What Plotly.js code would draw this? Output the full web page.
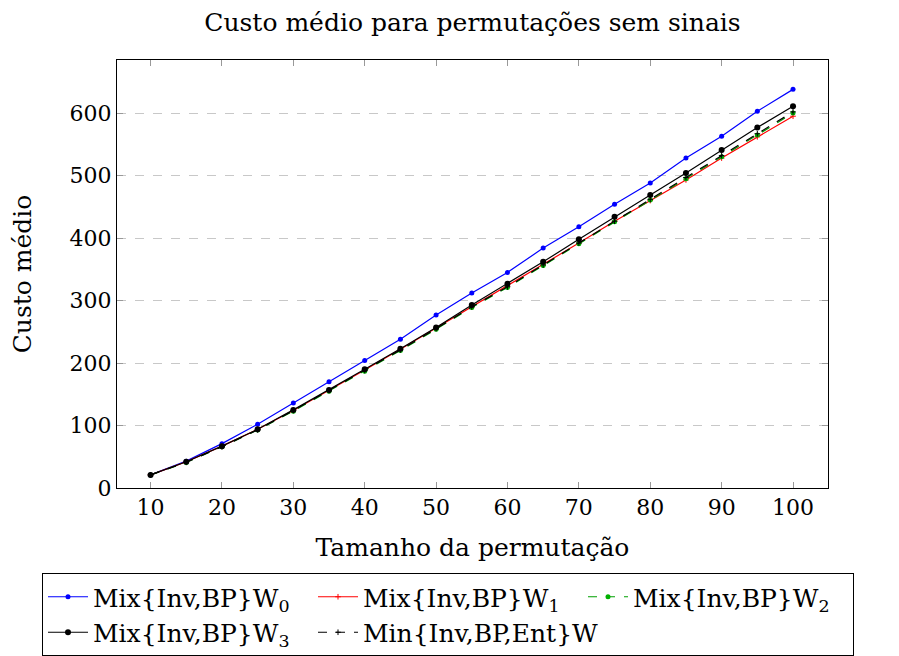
<!DOCTYPE html>
<html>
<head>
<meta charset="utf-8">
<script src="https://cdn.plot.ly/plotly-3.0.1.min.js"></script>
<style>html,body{margin:0;padding:0;background:#fff;}#chart{width:899px;height:656px;}</style>
</head>
<body>
<div id="chart"></div>
<script>
const sizes = [10,15,20,25,30,35,40,45,50,55,60,65,70,75,80,85,90,95,100];
const mixW0 = [21,43,71,102,136,170,204,238,277,312,345,384,418,454,488,528,563,603,638];
const mixW1 = [21,42,67,94,124,156,189,222,256,290,323,357,392,427,460,493,528,562,595];
const mixW2 = [21,41,66,93,123,155,187,220,254,289,321,356,391,426,461,495,530,565,600];
const mixW3 = [21,42,67,94,125,157,190,223,257,293,327,362,398,434,469,504,541,577,611];
const minW  = [21,41,66,93,124,156,188,221,255,290,322,357,392,427,462,497,532,567,602];
const seriesNames = ['Mix{Inv,BP}W<sub>0</sub>','Mix{Inv,BP}W<sub>1</sub>','Mix{Inv,BP}W<sub>2</sub>','Mix{Inv,BP}W<sub>3</sub>','Min{Inv,BP,Ent}W'];
const xTicks = [10,20,30,40,50,60,70,80,90,100];
const yTicks = [0,100,200,300,400,500,600];

const FONT = '"DejaVu Serif", "Liberation Serif", serif';
const traces = [
  {x:sizes,y:mixW0,name:seriesNames[0],mode:'lines+markers',line:{color:'#0000ff',width:1.2},marker:{color:'#0000ff',size:5,symbol:'circle'}},
  {x:sizes,y:mixW1,name:seriesNames[1],mode:'lines+markers',line:{color:'#ff0000',width:1.2},marker:{color:'#ff0000',size:4,symbol:'cross-thin',line:{color:'#ff0000',width:1}}},
  {x:sizes,y:mixW2,name:seriesNames[2],mode:'lines+markers',line:{color:'#00a000',width:1.2,dash:'dash'},marker:{color:'#00b000',size:5,symbol:'circle'}},
  {x:sizes,y:mixW3,name:seriesNames[3],mode:'lines+markers',line:{color:'#000000',width:1.2},marker:{color:'#000000',size:6,symbol:'circle'}},
  {x:sizes,y:minW,name:seriesNames[4],mode:'lines+markers',line:{color:'#000000',width:1.2,dash:'dash'},marker:{color:'#000000',size:4,symbol:'cross-thin',line:{color:'#000000',width:1}}}
];

const layout = {
  width:899,height:656,
  paper_bgcolor:'#fff',plot_bgcolor:'#fff',
  font:{family:FONT,size:22,color:'#000'},
  margin:{l:117,r:71,t:60,b:168,autoexpand:false},
  title:{text:'Custo médio para permutações sem sinais',font:{family:FONT,size:25,color:'#000'},x:0.5,xanchor:'center',xref:'paper',y:1-22/656,yanchor:'middle'},
  xaxis:{
    range:[5.3,104.9],tickvals:xTicks,ticktext:xTicks.map(String),
    ticks:'inside',ticklen:6,tickcolor:'#999',tickwidth:1,
    showgrid:false,zeroline:false,showline:true,linecolor:'#000',linewidth:1,mirror:'ticks',
    title:{text:'Tamanho da permutação',font:{family:FONT,size:25,color:'#000'},standoff:19},
    tickfont:{family:FONT,size:22,color:'#000'}
  },
  yaxis:{
    range:[0,685],tickvals:yTicks,ticktext:yTicks.map(String),
    ticks:'inside',ticklen:6,tickcolor:'#999',tickwidth:1,
    showgrid:true,gridcolor:'#c8c8c8',griddash:'dash',gridwidth:1,
    zeroline:false,showline:true,linecolor:'#000',linewidth:1,mirror:'ticks',
    title:{text:'Custo médio',font:{family:FONT,size:25,color:'#000'},standoff:30},
    tickfont:{family:FONT,size:22,color:'#000'}
  },
  showlegend:true,
  legend:{
    orientation:'h',xref:'paper',yref:'paper',x:(42-117)/711,y:(488-573)/428,xanchor:'left',yanchor:'top',
    bordercolor:'#000',borderwidth:1,bgcolor:'#fff',
    font:{family:FONT,size:25,color:'#000'},entrywidth:215,entrywidthmode:'pixels',itemwidth:40,tracegroupgap:0
  }
};
Plotly.newPlot('chart',traces,layout,{displayModeBar:false,staticPlot:true});
</script>
</body>
</html>
